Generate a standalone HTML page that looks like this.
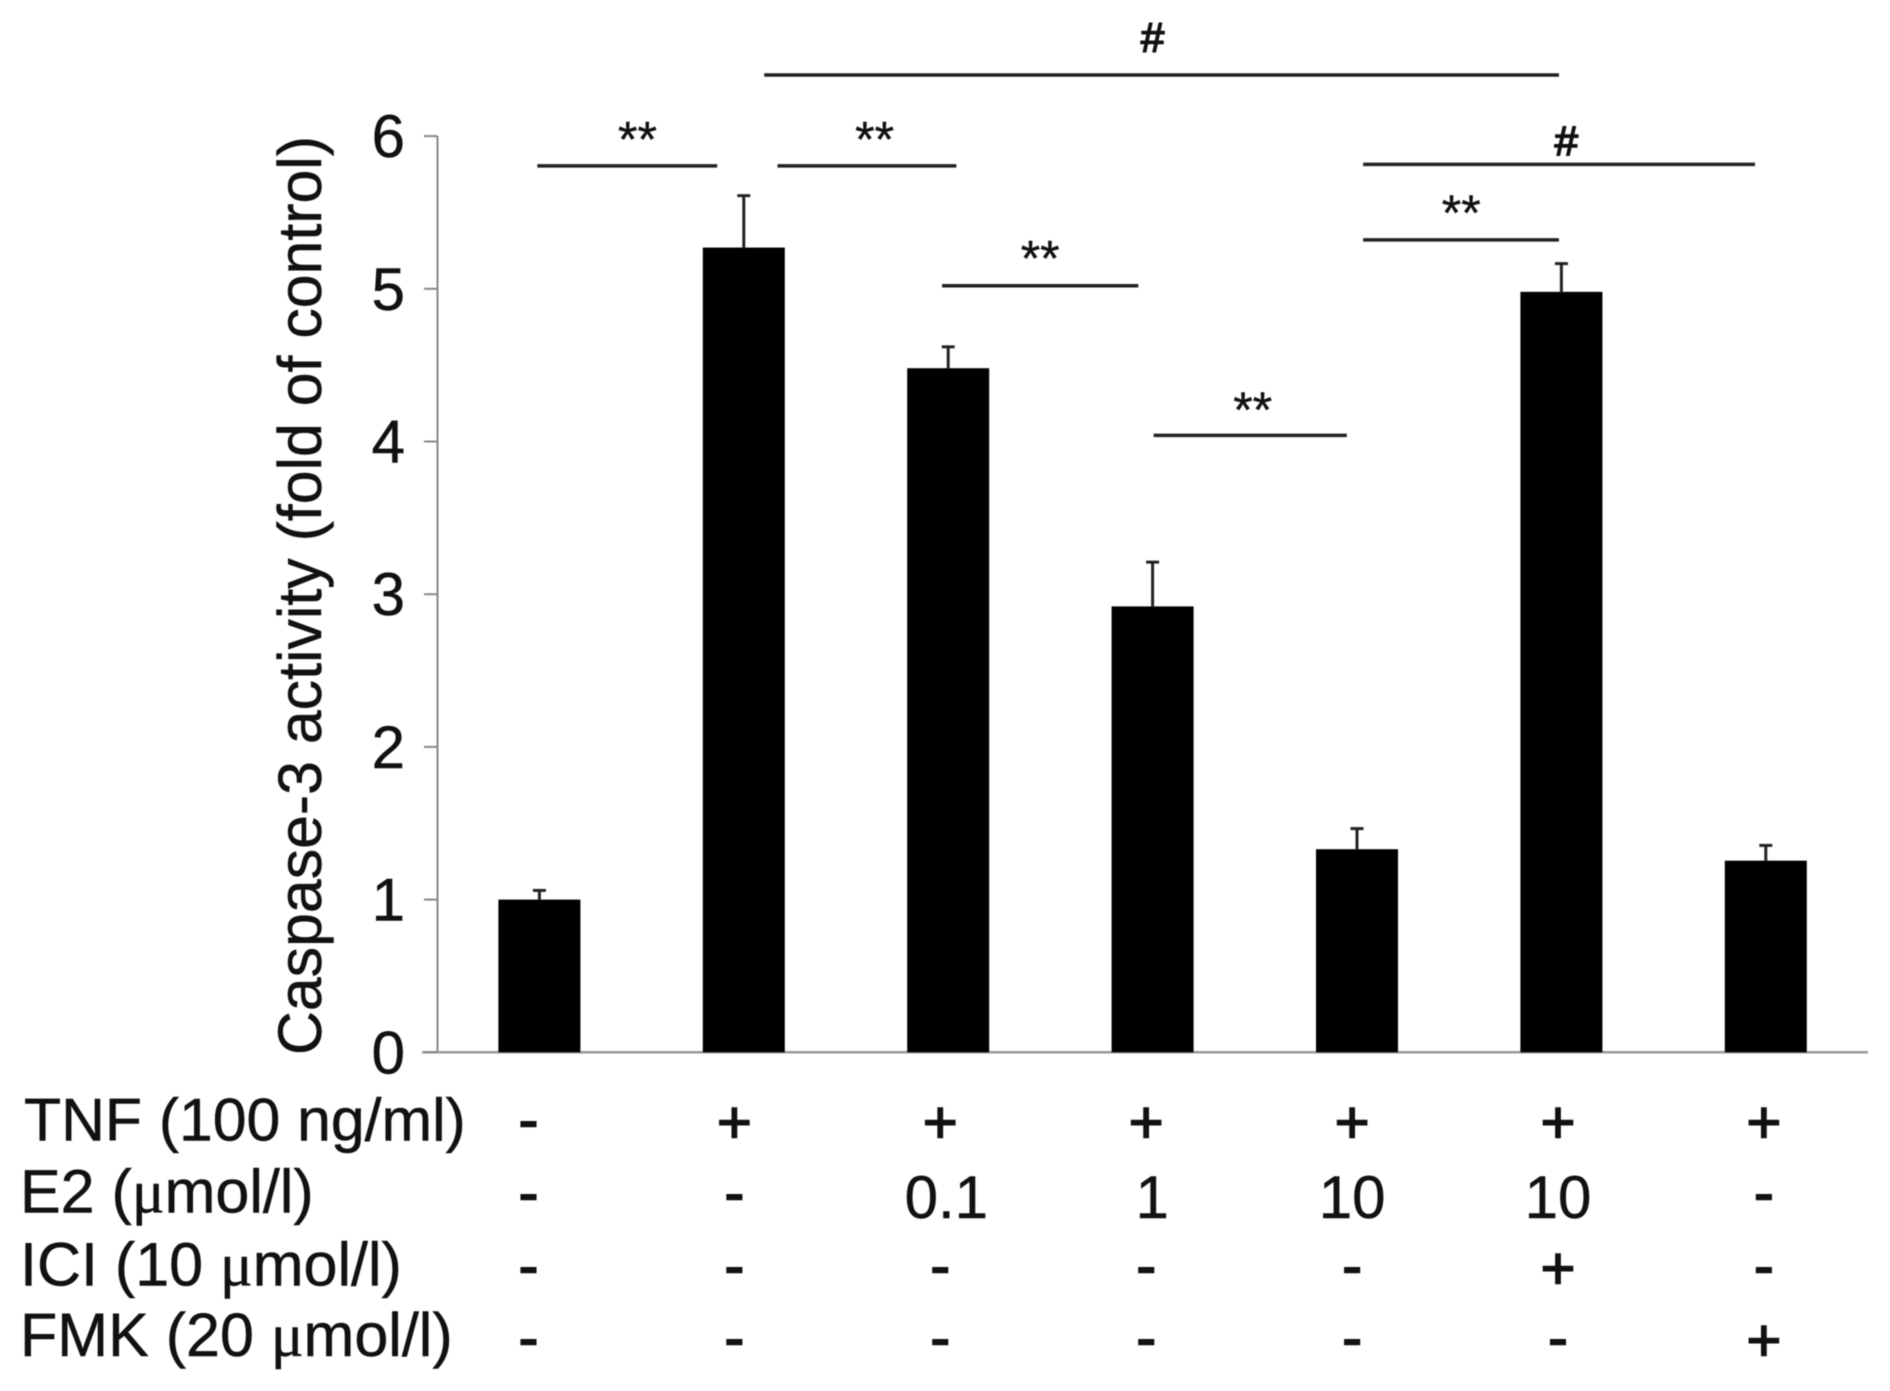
<!DOCTYPE html>
<html lang="en">
<head>
<meta charset="utf-8">
<title>Caspase-3 activity chart</title>
<style>
  html, body { margin: 0; padding: 0; background: #fff; }
  svg { display: block; width: 1890px; height: 1391px; filter: blur(0.6px); }
  text { font-family: "Liberation Sans", sans-serif; fill: #111; stroke: #111; stroke-width: 0.5px; }
  .mu { font-family: "Liberation Serif", serif; }
</style>
</head>
<body>
<svg id="chart" xmlns="http://www.w3.org/2000/svg" width="1890" height="1391" viewBox="0 0 1890 1391">
  <rect x="0" y="0" width="1890" height="1391" fill="#ffffff"/>
  <text font-size="60.8" text-anchor="middle" transform="translate(321 595.5) rotate(-90)">Caspase-3 activity (fold of control)</text>
  <text x="24" y="1140.5" font-size="60.7">TNF (100 ng/ml)</text>
  <text x="20" y="1212.5" font-size="61">E2 (<tspan class="mu">μ</tspan>mol/l)</text>
  <text x="20" y="1285.5" font-size="61">ICI (10 <tspan class="mu">μ</tspan>mol/l)</text>
  <text x="20" y="1356" font-size="61">FMK (20 <tspan class="mu">μ</tspan>mol/l)</text>
</svg>
<script>
const groups = ['control', 'tnf', 'e2-0.1', 'e2-1', 'e2-10', 'e2-10-ici', 'fmk'];
const barValues = [1.0, 5.27, 4.48, 2.92, 1.33, 4.98, 1.255];
const errorTops = [1.06, 5.61, 4.62, 3.21, 1.465, 5.165, 1.355];
const yTicks = [0, 1, 2, 3, 4, 5, 6];
const tnfRow = ['-', '+', '+', '+', '+', '+', '+'];
const e2Row = ['-', '-', '0.1', '1', '10', '10', '-'];
const iciRow = ['-', '-', '-', '-', '-', '+', '-'];
const fmkRow = ['-', '-', '-', '-', '-', '-', '+'];
const sigLabels = ['**', '**', '**', '**', '**', '#', '#'];
const sigFrom = [-0.01, 1.165, 1.97, 3.005, 4.03, 4.03, 1.10];
const sigTo = [0.87, 2.04, 2.93, 3.95, 4.988, 5.947, 4.988];
const sigLevels = [5.805, 5.805, 5.02, 4.04, 5.32, 5.815, 6.40];
const sigLabelAt = [0.48, 1.64, 2.45, 3.49, 4.51, 5.024, 3.0];
const sigLabelLevels = [6.01, 6.01, 5.23, 4.24, 5.53, 5.97, 6.65];

const svg = document.getElementById('chart');
const NS = 'http://www.w3.org/2000/svg';
const xScale = function (i) { return 539.4 + 204.4 * i; };
const yScale = function (v) { return 1052.3 - 152.7 * v; };
const rowX = function (i) { return 528.5 + 205.9 * i; };

function make(tag, attrs, text) {
  const el = document.createElementNS(NS, tag);
  Object.keys(attrs).forEach(function (k) { el.setAttribute(k, attrs[k]); });
  if (text !== undefined) el.textContent = text;
  svg.appendChild(el);
  return el;
}

// axes
const yAxis = make('line', { x1: 437.5, x2: 437.5, y1: yScale(6), y2: yScale(0), stroke: '#888', 'stroke-width': 2 });


const xAxis = make('line', { x1: 422, x2: 1868, y1: yScale(0), y2: yScale(0), stroke: '#999', 'stroke-width': 2.5 });



yTicks.forEach(function (t) {
  const tick = make('line', { x1: 424, x2: 437.5, y1: yScale(t), y2: yScale(t), stroke: '#888', 'stroke-width': 2 });
  
  
  const label = make('text', { x: 405, y: yScale(t) + 21, 'font-size': 60, 'text-anchor': 'end' }, String(t));
  
  
});

// bars and error bars
groups.forEach(function (g, i) {
  const x = xScale(i);
  const top = yScale(barValues[i]);
  const errTop = yScale(errorTops[i]);
  const stem = make('line', { x1: x, x2: x, y1: errTop, y2: top, stroke: '#222', 'stroke-width': 3 });
  
  
  const cap = make('line', { x1: x - 6.5, x2: x + 6.5, y1: errTop, y2: errTop, stroke: '#222', 'stroke-width': 3 });
  
  
  const bar = make('rect', { x: x - 41, y: top, width: 82, height: yScale(0) - top, fill: '#000' });
  
  
});

// significance brackets
sigLabels.forEach(function (s, i) {
  const line = make('line', { x1: xScale(sigFrom[i]), x2: xScale(sigTo[i]), y1: yScale(sigLevels[i]), y2: yScale(sigLevels[i]), stroke: '#222', 'stroke-width': 3.5 });
  
  
  const isStar = s === '**';
  const label = make('text', {
    x: xScale(sigLabelAt[i]),
    y: yScale(sigLabelLevels[i]) + (isStar ? 22 : 15),
    'font-size': isStar ? 50 : 42,
    'text-anchor': 'middle',
    style: isStar ? 'stroke-width:0.4px' : 'stroke-width:1.6px'
  }, s);
  
  
});

// treatment rows
const rows = [tnfRow, e2Row, iciRow, fmkRow];
const rowNames = ['tnf', 'e2', 'ici', 'fmk'];
const rowBaselines = [1140, 1213, 1286, 1358];
rows.forEach(function (row, r) {
  row.forEach(function (v, i) {
    const numeric = v !== '+' && v !== '-';
    const cell = make('text', {
      x: rowX(i) + (numeric && v !== '10' ? 6 : 0),
      y: rowBaselines[r] + (numeric ? 5 : (v === '+' ? 3 : 0)),
      'font-size': 60,
      'text-anchor': 'middle',
      style: numeric ? '' : 'stroke-width:1.5px'
    }, v);
    
    
  });
});
</script>
</body>
</html>
